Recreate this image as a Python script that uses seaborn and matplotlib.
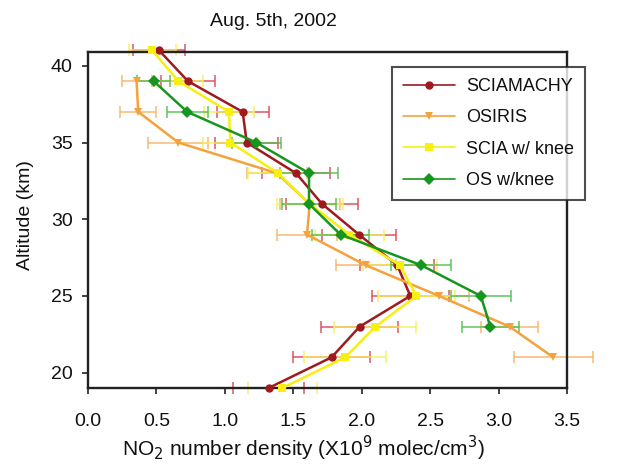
"""NO2 profile comparison, Aug 5th 2002"""

import numpy as np
import pandas as pd
import matplotlib
matplotlib.use("Agg")
import matplotlib.pyplot as plt
import seaborn as sns

altitude = [41, 39, 37, 35, 33, 31, 29, 27, 25, 23, 21, 19]

sciamachy = [0.52, 0.73, 1.13, 1.16, 1.52, 1.71, 1.98, 2.26, 2.355, 1.985, 1.78, 1.32]
sciamachy_err = [0.19, 0.20, 0.19, 0.23, 0.25, 0.26, 0.27, 0.27, 0.28, 0.28, 0.28, 0.26]

osiris = [np.nan, 0.355, 0.367, 0.66, 1.38, 1.62, 1.60, 2.03, 2.565, 3.08, 3.40, np.nan]
osiris_err = [np.nan, 0.11, 0.13, 0.22, 0.22, 0.22, 0.22, 0.22, 0.22, 0.21, 0.29, np.nan]

scia_knee = [0.47, 0.66, 1.03, 1.04, 1.39, 1.62, 1.91, 2.28, 2.40, 2.10, 1.88, 1.42]
scia_knee_err = [0.17, 0.18, 0.18, 0.20, 0.22, 0.24, 0.25, 0.27, 0.28, 0.30, 0.30, 0.25]

os_knee = [np.nan, 0.48, 0.725, 1.23, 1.615, 1.615, 1.845, 2.435, 2.87, 2.94, np.nan, np.nan]
os_knee_err = [np.nan, 0.12, 0.15, 0.18, 0.21, 0.20, 0.21, 0.22, 0.22, 0.21, np.nan, np.nan]

series_names = ["SCIAMACHY", "OSIRIS", "SCIA w/ knee", "OS w/knee"]
series_values = [sciamachy, osiris, scia_knee, os_knee]
series_errors = [sciamachy_err, osiris_err, scia_knee_err, os_knee_err]

line_colors = ["#9e1a1f", "#f5a23c", "#f7ef12", "#17961f"]
err_colors = ["#d9485a", "#f7b46a", "#f7f05a", "#52c052"]
marker_styles = ["o", "v", "s", "D"]
marker_sizes = [9, 8, 9, 7]

sns.set_style("ticks")
plt.rcParams["font.family"] = ["Liberation Sans", "DejaVu Sans"]
plt.rcParams.update({"text.color": "#111111", "xtick.color": "#111111",
                     "ytick.color": "#111111"})

frames = []
for name, vals, errs in zip(series_names, series_values, series_errors):
    frames.append(pd.DataFrame({"series": name, "altitude": altitude,
                                "density": vals, "err": errs}))
df = pd.concat(frames).dropna().reset_index(drop=True)

fig = plt.figure(figsize=(6.26, 4.67), dpi=100)
ax = fig.add_axes([88 / 626, 1 - 388 / 467, (567 - 88) / 626, (388 - 52) / 467])

# error bars first, behind the lines
for name, ecol in zip(series_names, err_colors):
    sub = df[df["series"] == name]
    ax.errorbar(sub["density"], sub["altitude"], xerr=sub["err"], fmt="none",
                ecolor=ecol, elinewidth=1.2, capsize=4, capthick=1.2,
                alpha=0.85, clip_on=False, zorder=2)

sns.lineplot(data=df, x="density", y="altitude", hue="series", style="series",
             hue_order=series_names, style_order=series_names,
             palette=dict(zip(series_names, line_colors)),
             markers=dict(zip(series_names, marker_styles)), dashes=False,
             sort=False, estimator=None, orient="y", linewidth=1.8,
             markeredgewidth=0, ax=ax, zorder=3, clip_on=False)

for line, ms in zip(ax.lines[-4:], marker_sizes):
    line.set_markersize(ms)

ax.set_xlim(0, 3.5)
ax.set_ylim(19, 40.9)
ax.set_xticks(np.arange(0, 3.51, 0.5))
ax.set_xticklabels([f"{v:.1f}" for v in np.arange(0, 3.51, 0.5)])
ax.set_yticks([20, 25, 30, 35, 40])
ax.tick_params(labelsize=14, length=4, width=1.2, color="#222222",
               labelcolor="#111111")
ax.tick_params(axis="x", pad=14)
ax.tick_params(axis="y", pad=7)
for sp in ax.spines.values():
    sp.set_linewidth(1.7)
    sp.set_color("#222222")
ax.set_xlabel("")
ax.set_ylabel("")

fig.text(273 / 626, 1 - 22 / 467, "Aug. 5th, 2002", ha="center", va="center", fontsize=14)
fig.text(303 / 626, 1 - 448 / 467,
         "NO$_2$ number density (X10$^9$ molec/cm$^3$)",
         ha="center", va="center", fontsize=15)
fig.text(26 / 626, 1 - 215 / 467, "Altitude (km)", ha="center", va="center",
         rotation=90, fontsize=14)

handles, labels = ax.get_legend_handles_labels()
for h in handles:
    h.set_markersize(6)
    h.set_linewidth(1.2)
leg = ax.legend(handles, labels, loc="upper left",
                bbox_to_anchor=(392 / 626, 1 - 67 / 467),
                bbox_transform=fig.transFigure, borderaxespad=0,
                fontsize=13, handlelength=2.9, labelspacing=0.8,
                frameon=True, fancybox=False, borderpad=0.6, handletextpad=0.6,
                labelcolor="#111111")
leg.get_frame().set_edgecolor("#222222")
leg.get_frame().set_linewidth(1.5)
leg.set_zorder(5)

fig.savefig("out.png", dpi=100)
